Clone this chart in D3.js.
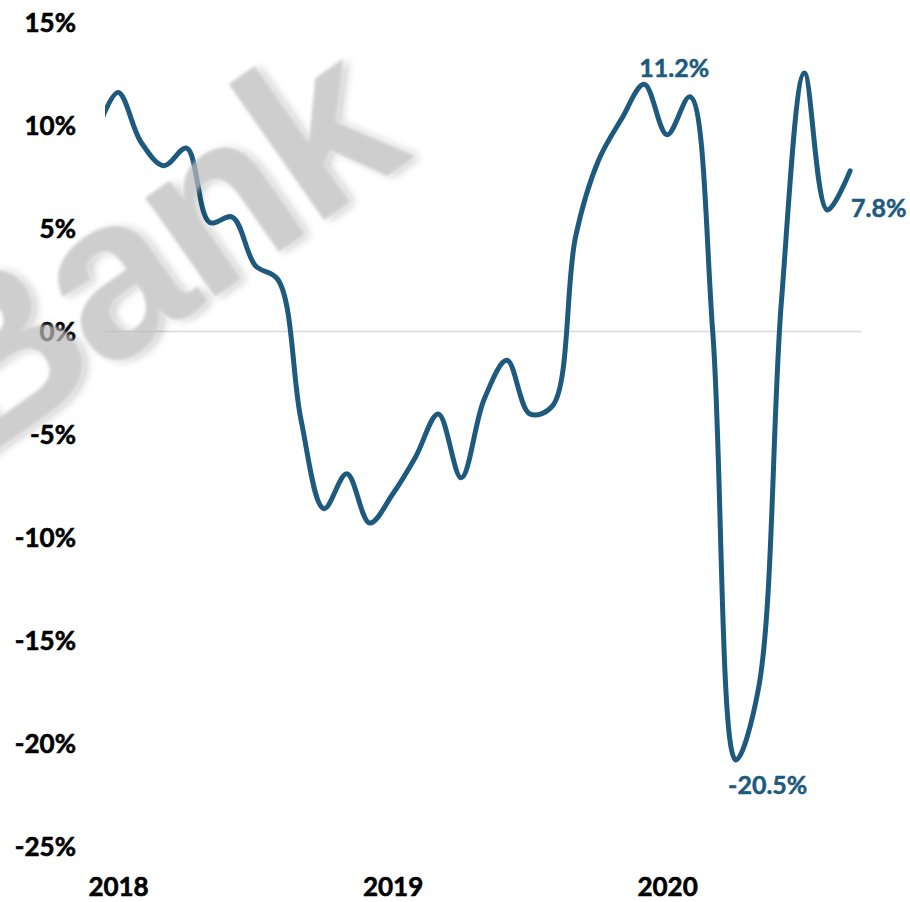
<!DOCTYPE html>
<html>
<head>
<meta charset="utf-8">
<script src="https://cdn.jsdelivr.net/npm/d3@7"></script>
<style>
  html, body { margin: 0; padding: 0; background: #ffffff; }
  svg { display: block; }
</style>
</head>
<body>
<svg id="chart" width="910" height="902"></svg>
<script>
// ---- data (month index: 0 = Jan 2018) ----
const months = [-1,0,1,2,3,4,5,6,7,8,9,10,11,12,13,14,15,16,17,18,19,20,21,22,23,24,25,26,27,28,29,30,31,32];
const values = [9.5,11.6,9.2,8.05,8.9,5.3,5.55,3.2,2.5,-4.3,-8.6,-6.9,-9.3,-7.9,-6.1,-4.0,-7.1,-3.3,-1.4,-4.0,-3.6,4.6,8.3,10.3,12.0,9.55,11.4,-0.1,-20.8,-17.3,1.5,12.55,5.9,7.8];
const yTicks = [15,10,5,0,-5,-10,-15,-20,-25];
const xTickMonths = [0,12,24];
const xTickLabels = ["2018","2019","2020"];
const annotations = [
  {month:23, text:"11.2%", pos:"top"},
  {month:27, text:"-20.5%", pos:"bottom"},
  {month:32, text:"7.8%", pos:"right"}
];
const watermarkText = "Bank";

const lineColor = "#1d5a7e";
const svg = d3.select("#chart");

const x = d3.scaleLinear().domain([-0.57, 32.52]).range([105, 862]);
const y = d3.scaleLinear().domain([-25, 15]).range([846.5, 22.5]);

const font = "Lato, 'Open Sans', sans-serif";

const defs = svg.append("defs");
defs.append("clipPath").attr("id","plotclip")
  .append("rect").attr("x", x.range()[0]).attr("y", 0)
  .attr("width", x.range()[1]-x.range()[0]).attr("height", 902);

const f = defs.append("filter").attr("id","wmblur").attr("x","-20%").attr("y","-20%").attr("width","140%").attr("height","140%");
f.append("feGaussianBlur").attr("in","SourceAlpha").attr("stdDeviation", 5).attr("result","sh");
f.append("feOffset").attr("in","sh").attr("dx",4).attr("dy",4).attr("result","sho");
f.append("feComponentTransfer").attr("in","sho").attr("result","shf")
  .append("feFuncA").attr("type","linear").attr("slope",0.3);
f.append("feGaussianBlur").attr("in","SourceGraphic").attr("stdDeviation", 1.8).attr("result","main");
const mg = f.append("feMerge");
mg.append("feMergeNode").attr("in","shf");
mg.append("feMergeNode").attr("in","main");

// zero line
svg.append("line")
  .attr("x1", x.range()[0]).attr("x2", x.range()[1])
  .attr("y1", y(0)).attr("y2", y(0))
  .attr("stroke", "#d9d9d9").attr("stroke-width", 1.5);

// y axis labels
const yAxis = d3.axisLeft(y).tickValues(yTicks).tickFormat(d => d + "%").tickSize(0).tickPadding(0);
const yg = svg.append("g").attr("transform", "translate(76,0)").call(yAxis);
yg.select(".domain").remove();
yg.selectAll("text").attr("font-family", font).attr("font-weight", 700)
  .attr("font-size", 26).attr("fill", "#000").attr("stroke","#000").attr("stroke-width",0.6)
  .attr("text-anchor","end").attr("dy","0.36em");

// x axis labels
const xAxis = d3.axisBottom(x).tickValues(xTickMonths).tickFormat((d,i) => xTickLabels[i]).tickSize(0).tickPadding(0);
const xg = svg.append("g").attr("transform", "translate(0,878)").call(xAxis);
xg.select(".domain").remove();
xg.selectAll("text").attr("font-family", font).attr("font-weight", 700)
  .attr("font-size", 26).attr("fill", "#000").attr("stroke","#000").attr("stroke-width",0.6)
  .attr("dy","0.71em");

// line
const data = months.map((m,i) => ({m, v: values[i]}));
const line = d3.line().x(d => x(d.m)).y(d => y(d.v)).curve(d3.curveCatmullRom.alpha(0.5));
svg.append("path").datum(data)
  .attr("clip-path","url(#plotclip)")
  .attr("d", line)
  .attr("fill","none").attr("stroke", lineColor).attr("stroke-width", 5)
  .attr("stroke-linejoin","round").attr("stroke-linecap","round");

// annotations
annotations.forEach(a => {
  const i = months.indexOf(a.month);
  const px = x(months[i]), py = y(values[i]);
  const t = svg.append("text").text(a.text)
    .attr("font-family", font).attr("font-weight", 700).attr("font-size", 25)
    .attr("fill", lineColor).attr("stroke", lineColor).attr("stroke-width", 0.5);
  if (a.pos === "top") t.attr("x", px + 30).attr("y", py - 7).attr("text-anchor","middle");
  if (a.pos === "bottom") t.attr("x", px + 32).attr("y", py + 34).attr("text-anchor","middle");
  if (a.pos === "right") t.attr("x", px + 1).attr("y", py + 46).attr("text-anchor","start");
});

// watermark
svg.append("text").text(watermarkText)
  .attr("transform", "translate(410,160) rotate(-35)")
  .attr("text-anchor","end")
  .attr("letter-spacing", -6)
  .attr("font-family","'Liberation Sans', Arial, sans-serif").attr("font-weight",700)
  .attr("font-size", 228)
  .attr("fill", "#bcbcbc").attr("opacity", 0.72)
  .attr("filter","url(#wmblur)");
</script>
</body>
</html>
